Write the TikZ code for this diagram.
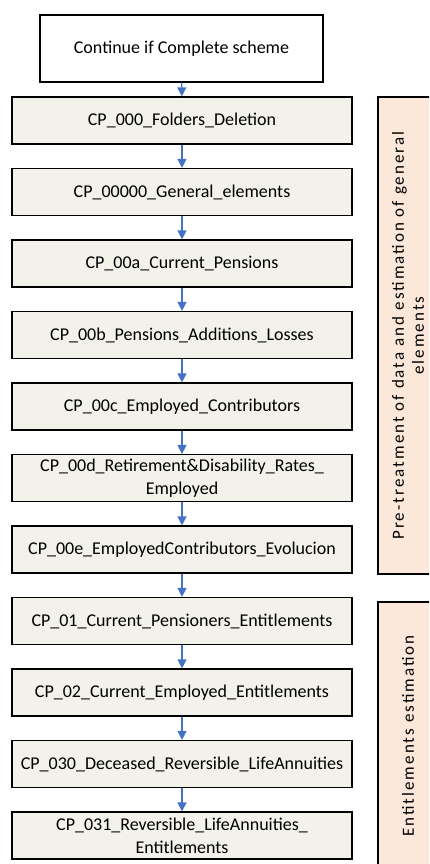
\documentclass[tikz,border=0pt]{standalone}
\usepackage{fontspec}
\setmainfont{Carlito}
\newfontfamily\spacedfont[LetterSpace=12]{Carlito}
\usetikzlibrary{arrows.meta}
\definecolor{stepfill}{HTML}{F2F1EA}
\definecolor{phasefill}{HTML}{FBE8DB}
\definecolor{flowblue}{HTML}{4472C4}
\tikzset{
    stepbox/.style={draw=black,line width=1.2pt,fill=stepfill,minimum width=340pt,minimum height=47pt,inner sep=0pt,align=center,font=\fontsize{18}{23}\selectfont},
    phasebox/.style={draw=black,line width=1.2pt,fill=phasefill,minimum width=60pt,inner sep=0pt},
    phasetext/.style={rotate=90,align=center,font=\spacedfont\fontsize{17}{20}\selectfont},
    flow/.style={-{Triangle[length=9pt,width=9pt]},flowblue,line width=1.3pt}
}
\begin{document}
\begin{tikzpicture}[x=1pt,y=-1pt]
    \useasboundingbox (0,0) rectangle (429,864);
    \clip (0,0) rectangle (429,864);
    \node[draw=black,line width=1.2pt,fill=white,minimum width=283pt,minimum height=67pt,inner sep=0pt,font=\fontsize{18}{23}\selectfont] (start) at (181.5,48.5) {Continue if Complete scheme};
    \node[stepbox] (s0) at (182,120.5) {CP\_000\_Folders\_Deletion};
    \node[stepbox] (s1) at (182,192) {CP\_00000\_General\_elements};
    \node[stepbox] (s2) at (182,263.5) {CP\_00a\_Current\_Pensions};
    \node[stepbox] (s3) at (182,335) {CP\_00b\_Pensions\_Additions\_Losses};
    \node[stepbox] (s4) at (182,406.5) {CP\_00c\_Employed\_Contributors};
    \node[stepbox] (s5) at (182,478) {CP\_00d\_Retirement\&Disability\_Rates\_\\Employed};
    \node[stepbox] (s6) at (182,549.5) {CP\_00e\_EmployedContributors\_Evolucion};
    \node[stepbox] (s7) at (182,621) {CP\_01\_Current\_Pensioners\_Entitlements};
    \node[stepbox] (s8) at (182,692.5) {CP\_02\_Current\_Employed\_Entitlements};
    \node[stepbox] (s9) at (182,764) {CP\_030\_Deceased\_Reversible\_LifeAnnuities};
    \node[stepbox] (s10) at (182,835.5) {CP\_031\_Reversible\_LifeAnnuities\_\\Entitlements};
    \draw[flow] (start) -- (s0);
    \draw[flow] (s0) -- (s1);
    \draw[flow] (s1) -- (s2);
    \draw[flow] (s2) -- (s3);
    \draw[flow] (s3) -- (s4);
    \draw[flow] (s4) -- (s5);
    \draw[flow] (s5) -- (s6);
    \draw[flow] (s6) -- (s7);
    \draw[flow] (s7) -- (s8);
    \draw[flow] (s8) -- (s9);
    \draw[flow] (s9) -- (s10);
    % phases
    \node[phasebox,minimum height=477pt] (pre) at (408,335.5) {};
    \node[phasetext] (pretext) at (pre.center) {Pre-treatment of data and estimation of general\\elements};
    \node[phasebox,minimum height=268pt] (ent) at (408,736) {};
    \node[phasetext] (enttext) at (ent.center) {Entitlements estimation};
\end{tikzpicture}
\end{document}
